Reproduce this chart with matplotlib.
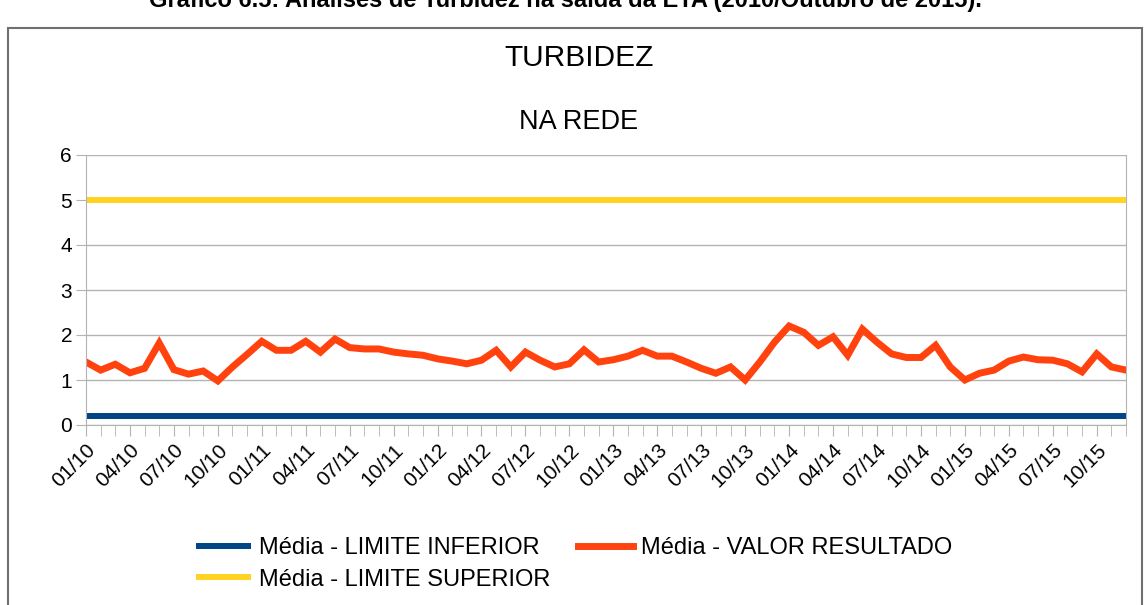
import numpy as np
import matplotlib.pyplot as plt
from matplotlib.patches import Rectangle

plt.rcParams['font.family'] = ['Liberation Sans', 'DejaVu Sans']

# monthly categories 01/10 .. 12/15
months = ['%02d/%02d' % (m, y) for y in range(10, 16) for m in range(1, 13)]

valor = [1.40, 1.22, 1.35, 1.16, 1.26, 1.82, 1.23, 1.13, 1.20, 0.98,
         1.29, 1.57, 1.86, 1.66, 1.66, 1.86, 1.62, 1.91, 1.72, 1.69,
         1.69, 1.62, 1.58, 1.55, 1.47, 1.42, 1.36, 1.44, 1.66, 1.29,
         1.62, 1.44, 1.29, 1.36, 1.67, 1.40, 1.45, 1.53, 1.66, 1.53,
         1.53, 1.40, 1.26, 1.15, 1.29, 1.00, 1.40, 1.84, 2.20, 2.06,
         1.77, 1.96, 1.55, 2.13, 1.84, 1.58, 1.50, 1.50, 1.77, 1.29,
         1.00, 1.15, 1.22, 1.42, 1.51, 1.45, 1.44, 1.36, 1.18, 1.58,
         1.29, 1.22]
lim_inf = [0.2] * len(months)
lim_sup = [5.0] * len(months)

fig = plt.figure(figsize=(11.46, 6.05), dpi=100)
ax = fig.add_axes([86/1146, 1-425/605, 1040/1146, 270/605])

x = np.arange(len(months))
l1, = ax.plot(x, lim_inf, color='#004586', lw=4.3, solid_capstyle='butt')
l3, = ax.plot(x, lim_sup, color='#ffd320', lw=4.3, solid_capstyle='butt')
l2, = ax.plot(x, valor, color='#ff420e', lw=5, solid_joinstyle='miter')

ax.set_xlim(0, len(months)-1)
ax.set_ylim(0, 6)
ax.set_yticks(range(7))
ax.set_xticks(x, minor=True)
ax.set_xticks(x[::3])
ax.set_xticklabels(months[::3], rotation=45, ha='right', rotation_mode='anchor', fontsize=15)
ax.tick_params(axis='x', which='both', length=8, color='#b3b3b3', pad=3)
ax.tick_params(axis='y', length=7, color='#b3b3b3', labelsize=15, pad=3)
ax.grid(axis='y', color='#b3b3b3', lw=1)
ax.set_axisbelow(True)
for s in ['left', 'bottom', 'right']:
    ax.spines[s].set_color('#b3b3b3')
ax.spines['top'].set_visible(False)

fig.suptitle('TURBIDEZ', x=0.505, y=1-58/605, va='center', fontsize=21.5)
fig.text(0.505, 1-122/605, 'NA REDE', ha='center', va='center', fontsize=19.5)

fig.text(0.493, 1-7/605, 'Gráfico 6.5: Análises de Turbidez na saída da ETA (2010/Outubro de 2015).',
         ha='center', va='baseline', fontsize=17, fontweight='bold')

fig.patches.append(Rectangle((8/1146, -0.05), 1134/1146, 1.05-28/605, transform=fig.transFigure,
                             fill=False, edgecolor='#707070', lw=1.5))

fig.legend([l1, l3, l2],
           ['Média - LIMITE INFERIOR', 'Média - LIMITE SUPERIOR', 'Média - VALOR RESULTADO'],
           ncol=2, loc='upper left', bbox_to_anchor=(175/1146, 1-516/605),
           frameon=False, fontsize=17, handlelength=2.3, handletextpad=0.34,
           columnspacing=1.2, labelspacing=0.4)

fig.savefig('out.png', dpi=100)
